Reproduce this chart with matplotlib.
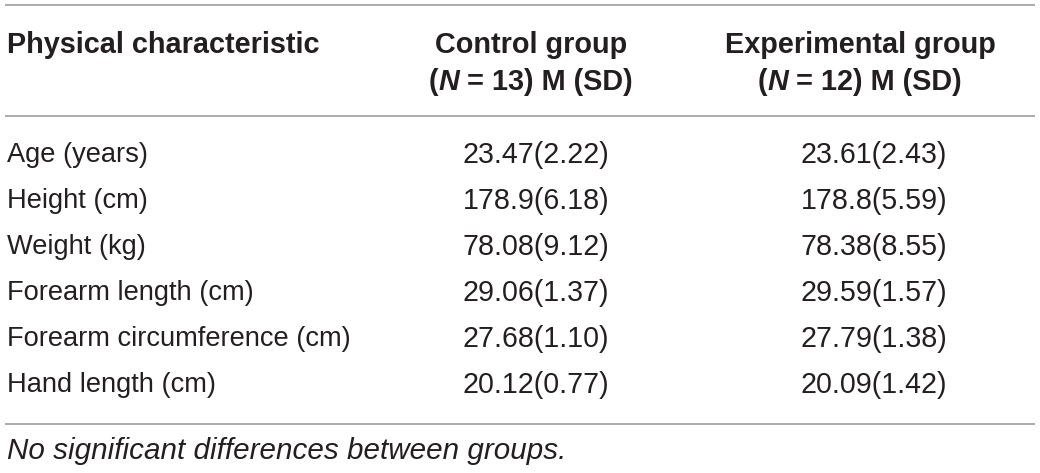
import matplotlib
matplotlib.use("Agg")
import matplotlib.pyplot as plt

header_col1 = "Physical characteristic"
header_col2 = ["Control group", "13"]
header_col3 = ["Experimental group", "12"]

characteristics = ["Age (years)", "Height (cm)", "Weight (kg)", "Forearm length (cm)",
                   "Forearm circumference (cm)", "Hand length (cm)"]
control_vals = ["23.47(2.22)", "178.9(6.18)", "78.08(9.12)", "29.06(1.37)", "27.68(1.10)", "20.12(0.77)"]
exp_vals = ["23.61(2.43)", "178.8(5.59)", "78.38(8.55)", "29.59(1.57)", "27.79(1.38)", "20.09(1.42)"]
footnote = "No significant differences between groups."

W, H = 1040, 473
fig = plt.figure(figsize=(W / 100, H / 100), dpi=100)
ax = fig.add_axes([0, 0, 1, 1])
ax.set_xlim(0, W)
ax.set_ylim(H, 0)
ax.axis("off")

txt = "#231f20"
line_c = "#9d9d9d"
fam = ["Liberation Sans", "DejaVu Sans"]
fs_lab = 19.6
fs_num = 20.6
fs_hdr = 20.8

for y in [5, 116, 424]:
    ax.plot([5, 1035], [y, y], color=line_c, lw=1.2, solid_capstyle="butt")

x1 = 7
xh2, xh3 = 531, 860     # header centres
xv2, xv3 = 536, 874     # value centres

ax.text(x1, 45, header_col1, ha="left", va="center", fontsize=fs_hdr, fontweight="bold", color=txt, family=fam)

renderer = fig.canvas.get_renderer()


def n_line(xc, n):
    # "(N = n) M (SD)" with an italic N, centred on xc
    parts = [("(", "normal"), ("N", "italic"), (" = " + n + ") M (SD)", "normal")]
    objs = []
    for s, st in parts:
        t = ax.text(0, 82, s, ha="left", va="center", fontsize=fs_hdr, fontweight="bold",
                    style=st, color=txt, family=fam)
        objs.append(t)
    widths = [t.get_window_extent(renderer=renderer).width for t in objs]
    x = xc - sum(widths) / 2
    for t, w in zip(objs, widths):
        t.set_x(x)
        x += w


for x, hdr in [(xh2, header_col2), (xh3, header_col3)]:
    ax.text(x, 45, hdr[0], ha="center", va="center", fontsize=fs_hdr, fontweight="bold", color=txt, family=fam)
    n_line(x, hdr[1])

row_y = [155, 201, 247, 293, 339, 385]
for y, c, a, b in zip(row_y, characteristics, control_vals, exp_vals):
    ax.text(x1, y, c, ha="left", va="center", fontsize=fs_lab, color=txt, family=fam)
    ax.text(xv2, y, a, ha="center", va="center", fontsize=fs_num, color=txt, family=fam)
    ax.text(xv3, y, b, ha="center", va="center", fontsize=fs_num, color=txt, family=fam)

ax.text(x1, 451, footnote, ha="left", va="center", fontsize=21.3, style="italic", color=txt, family=fam)

fig.savefig("out.png", dpi=100)
